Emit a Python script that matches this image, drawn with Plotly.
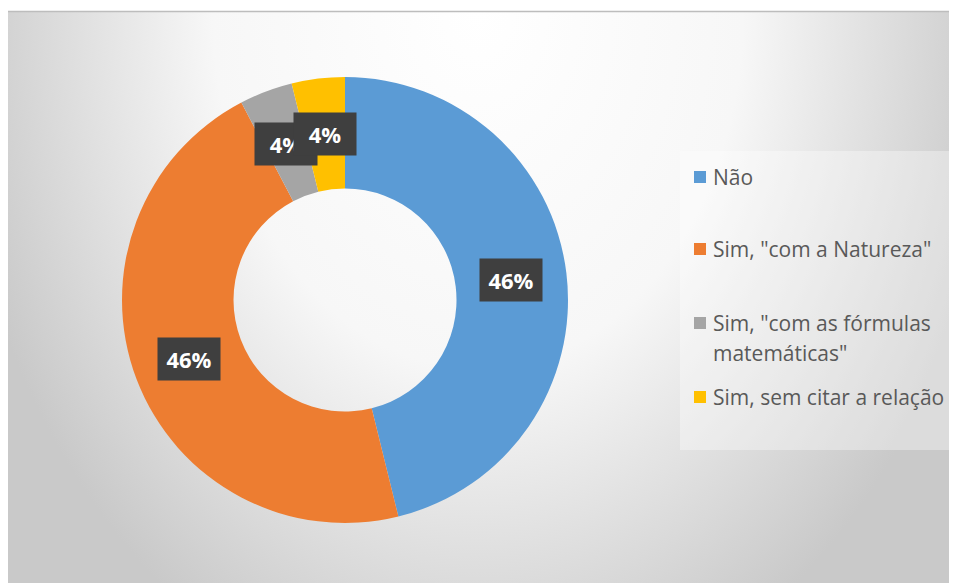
import base64, math
import plotly.graph_objects as go

# ---- data ----
categories = ['Não', 'Sim, "com a Natureza"', 'Sim, "com as fórmulas<br>matemáticas"', 'Sim, sem citar a relação']
values = [12, 12, 1, 1]
colors = ['#5B9BD5', '#ED7D31', '#A5A5A5', '#FFC000']

# ---- layout geometry (page has an 8px body margin, so offsets are relative to it) ----
W, H = 957, 583
OX, OY = 8, 8
cx, cy, R = 345 - OX, 300 - OY, 223      # donut centre (px) and outer radius
hole = 0.5

def px2x(p):
    return (p - OX) / W

def py2y(p):
    return 1 - (p - OY) / H

dom_x = [(cx - R) / W, (cx + R) / W]
dom_y = [(H - cy - R) / H, (H - cy + R) / H]

fig = go.Figure()
fig.add_trace(go.Pie(
    labels=categories, values=values, hole=hole, sort=False,
    direction='clockwise', rotation=0,
    marker=dict(colors=colors, line=dict(width=0)),
    textinfo='none', hoverinfo='label+percent', showlegend=False,
    domain=dict(x=dom_x, y=dom_y),
))

# background radial gradient as an SVG image
bw, bh = W, H
gcx = 470
svg = f'''<svg xmlns="http://www.w3.org/2000/svg" width="{bw}" height="{bh}" viewBox="0 0 {bw} {bh}" preserveAspectRatio="none">
<defs><radialGradient id="g" gradientUnits="userSpaceOnUse" cx="{gcx}" cy="0" r="530" gradientTransform="translate({gcx} 0) scale(1 1.35) translate(-{gcx} 0)">
<stop offset="0" stop-color="#ffffff"/><stop offset="0.5" stop-color="#f7f7f7"/><stop offset="1" stop-color="#c9c9c9"/>
</radialGradient></defs>
<rect x="0" y="0" width="{bw}" height="{bh}" fill="url(#g)"/></svg>'''
src = 'data:image/svg+xml;base64,' + base64.b64encode(svg.encode()).decode()

shapes = [
    dict(type='line', xref='paper', yref='paper', x0=0, x1=1, y0=py2y(11.5), y1=py2y(11.5),
         line=dict(color='#bdbdbd', width=1.5)),
    # legend box
    dict(type='rect', xref='paper', yref='paper', x0=px2x(680), x1=px2x(953), y0=py2y(450), y1=py2y(151),
         fillcolor='rgba(255,255,255,0.35)', line=dict(width=0), layer='below'),
]
annotations = []

# data labels at mid-angle, mid-radius of each slice
total = sum(values)
cum = 0
rm = R * (1 + hole) / 2
for v in values:
    mid = (cum + v / 2) / total * 2 * math.pi
    cum += v
    lx = cx + rm * math.sin(mid)
    ly = cy - rm * math.cos(mid)
    pct = f'{round(100 * v / total)}%'
    annotations.append(dict(x=lx / W, y=1 - ly / H, xref='paper', yref='paper',
                            xanchor='center', yanchor='middle',
                            text=f'<b>{pct}</b>', showarrow=False,
                            font=dict(size=22, color='white', family='Open Sans'),
                            bgcolor='#3f3f3f', width=56, height=36, borderpad=3))

# manual legend
legend_y = [177, 249, 323, 397]   # px centre of first line of each entry
line_gap = 30
for lab, col, ly in zip(categories, colors, legend_y):
    shapes.append(dict(type='rect', xref='paper', yref='paper',
                       x0=px2x(694), x1=px2x(706), y0=py2y(ly + 6), y1=py2y(ly - 6),
                       fillcolor=col, line=dict(width=0)))
    for i, part in enumerate(lab.split('<br>')):
        annotations.append(dict(x=px2x(711), y=py2y(ly + i * line_gap), xref='paper', yref='paper',
                                xanchor='left', yanchor='middle', text=part, showarrow=False,
                                font=dict(size=21, color='#595959', family='Open Sans')))

fig.update_layout(
    width=W, height=H, margin=dict(l=0, r=0, t=0, b=0),
    paper_bgcolor='white', plot_bgcolor='white',
    images=[dict(source=src, xref='paper', yref='paper', x=0, y=py2y(11),
                 sizex=1, sizey=1, xanchor='left', yanchor='top',
                 sizing='stretch', layer='below')],
    shapes=shapes, annotations=annotations,
)

fig.write_html('out.html')
